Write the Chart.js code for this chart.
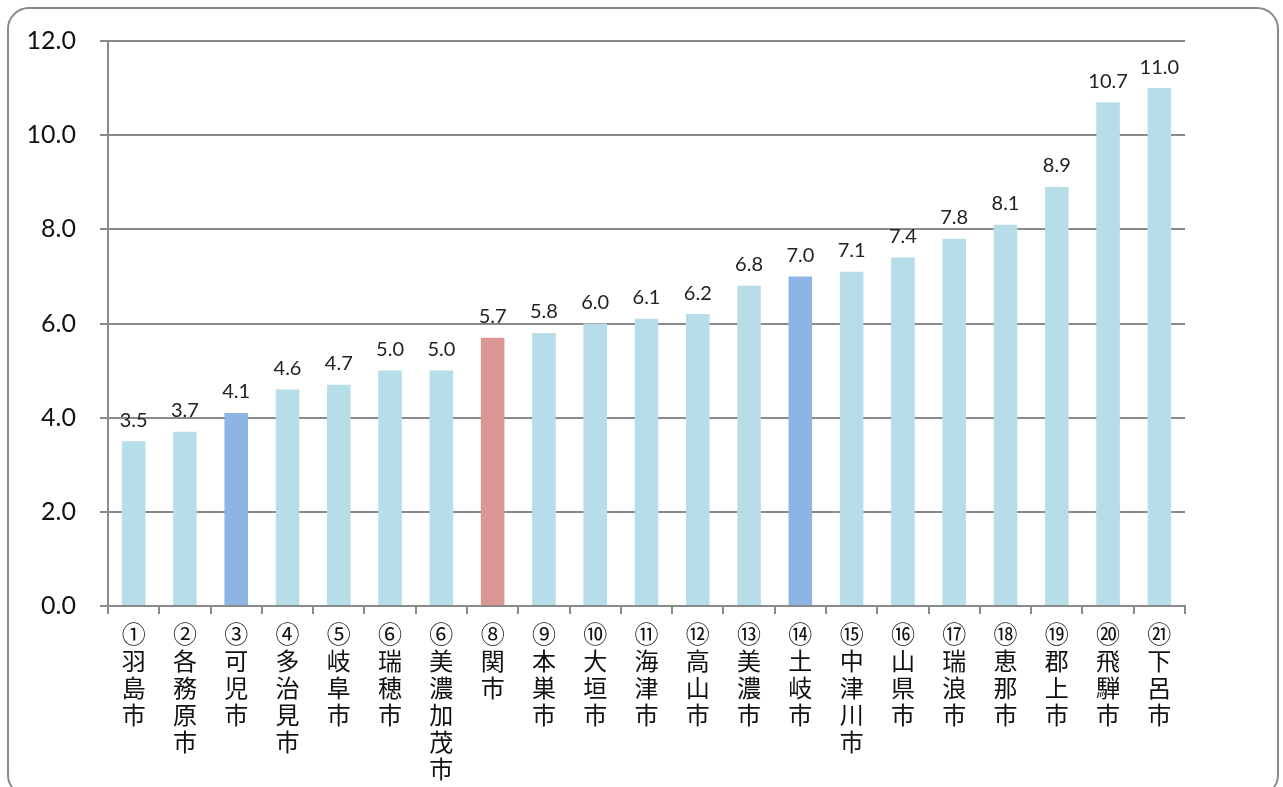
<!DOCTYPE html>
<html><head><meta charset="utf-8">
<script src="https://cdn.jsdelivr.net/npm/chart.js@4"></script>
<style>
html,body{margin:0;padding:0;background:#fff;overflow:hidden;}
#wrap{position:relative;width:1283px;height:787px;}
#frame{position:absolute;left:7px;top:7px;width:1272px;height:790px;border:2px solid #8a8a8a;border-radius:22px;box-sizing:border-box;pointer-events:none;}
canvas{position:absolute;left:0;top:0;}
</style></head>
<body><div id="wrap"><canvas id="c" width="1283" height="787"></canvas><div id="frame"></div></div>
<script>
const nums = ['①','②','③','④','⑤','⑥','⑥','⑧','⑨','⑩','⑪','⑫','⑬','⑭','⑮','⑯','⑰','⑱','⑲','⑳','㉑'];
const cities = ['羽島市','各務原市','可児市','多治見市','岐阜市','瑞穂市','美濃加茂市','関市','本巣市','大垣市','海津市','高山市','美濃市','土岐市','中津川市','山県市','瑞浪市','恵那市','郡上市','飛騨市','下呂市'];
const values = [3.5,3.7,4.1,4.6,4.7,5.0,5.0,5.7,5.8,6.0,6.1,6.2,6.8,7.0,7.1,7.4,7.8,8.1,8.9,10.7,11.0];
const yTicks = [0,2,4,6,8,10,12];
const highlightBlue = [2,13];
const highlightRed = [7];

const labels = cities.map((c,i)=>[nums[i], ...Array.from(c)]);
const colors = values.map((v,i)=> highlightRed.includes(i)?'#D99694':(highlightBlue.includes(i)?'#8EB4E3':'#B7DDE8'));

const valueLabels = {
  id:'valueLabels',
  afterDatasetsDraw(chart){
    const ctx=chart.ctx;
    const meta=chart.getDatasetMeta(0);
    ctx.save();
    ctx.font='20px Lato, "DejaVu Sans", sans-serif';
    ctx.fillStyle='#222';
    ctx.textAlign='center';
    ctx.textBaseline='bottom';
    meta.data.forEach((bar,i)=>{
      ctx.fillText(values[i].toFixed(1), bar.x, bar.y-11);
    });
    ctx.restore();
  }
};

new Chart(document.getElementById('c'),{
  type:'bar',
  data:{labels,datasets:[{data:values,backgroundColor:colors,borderWidth:0,barPercentage:0.46,categoryPercentage:1.0}]},
  options:{
    responsive:false,animation:false,
    layout:{padding:{left:0,right:98,top:41,bottom:0}},
    plugins:{legend:{display:false},tooltip:{enabled:false}},
    scales:{
      x:{
        offset:true,
        grid:{display:true,drawOnChartArea:false,offset:true,color:'#8a8a8a',lineWidth:2,tickLength:8,tickWidth:2},
        border:{color:'#8a8a8a',width:2},
        ticks:{autoSkip:false,maxRotation:0,minRotation:0,padding:6,color:'#111',
          font:{family:'"Noto Sans CJK JP", sans-serif',size:24,lineHeight:1.13}},
        afterFit(s){ s.height = 787-606; }
      },
      y:{
        min:0,max:12,
        afterBuildTicks(s){ s.ticks = yTicks.map(v=>({value:v})); },
        grid:{color:'#8a8a8a',lineWidth:2,tickLength:8},
        border:{color:'#8a8a8a',width:2},
        ticks:{padding:24,color:'#111',font:{family:'Lato, "DejaVu Sans", sans-serif',size:25},callback:v=>Number(v).toFixed(1)},
        afterFit(s){ s.width = 108; }
      }
    }
  },
  plugins:[valueLabels]
});
</script></body></html>
